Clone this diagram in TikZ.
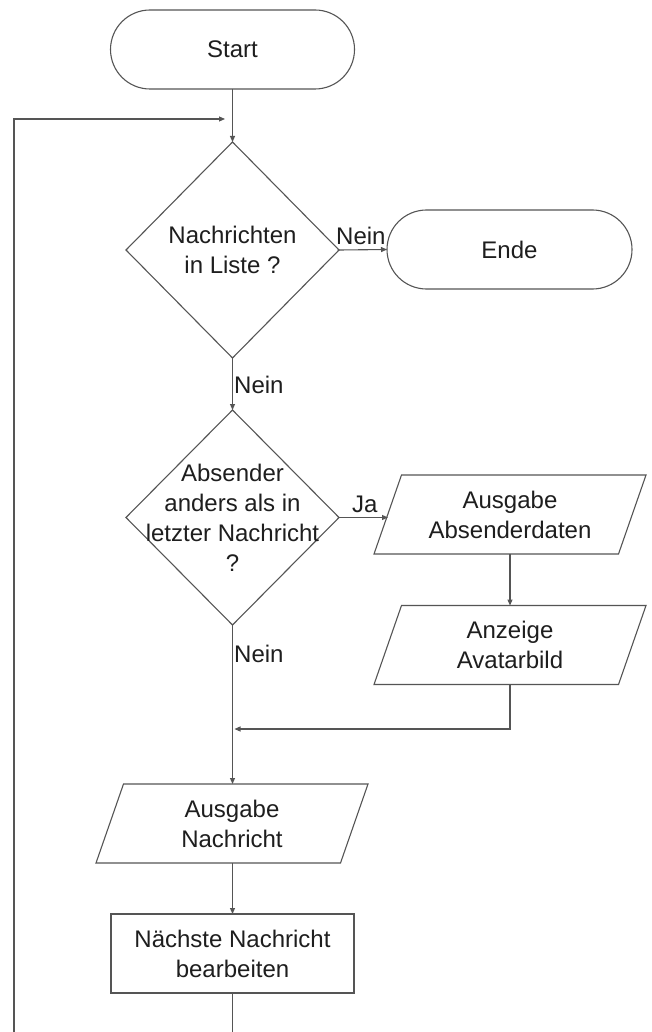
\documentclass[tikz,border=0pt]{standalone}
\usepackage{fontspec}
\setmainfont{Liberation Sans}
\usetikzlibrary{shapes.geometric,arrows.meta}
\definecolor{ln}{RGB}{85,85,85}
\definecolor{tx}{RGB}{30,30,30}
\begin{document}
\begin{tikzpicture}[x=1pt,y=-1pt,
  every node/.style={text=tx,font=\fontsize{24}{30}\selectfont},
  conn/.style={draw=ln,line width=1.1pt},
  arr/.style={conn,-{Triangle[length=6pt,width=5pt]}},
  term/.style={draw=ln,line width=1.1pt,rectangle,rounded corners=39.5pt,minimum width=244pt,minimum height=79pt,inner sep=0pt,outer sep=0pt,align=center},
  procbox/.style={draw=ln,line width=1.1pt,rectangle,minimum width=243pt,minimum height=79pt,inner sep=0pt,outer sep=0pt,align=center},
  iobox/.style={rectangle,minimum width=272pt,minimum height=79pt,inner sep=0pt,outer sep=0pt,align=center},
  decision/.style={draw=ln,line width=1.1pt,diamond,minimum width=213pt,minimum height=216pt,inner sep=0pt,outer sep=0pt},
  txt/.style={align=center,inner sep=0pt},
  lbl/.style={anchor=base west,inner sep=0pt}
]
\clip (0,0) rectangle (652,1032);
\fill[white] (0,0) rectangle (652,1032);

% nodes
\node[term] (start) at (232.5,49.5) {Start};
\node[decision] (d1) at (232.5,250) {};
\node[txt] (d1t) at (232.5,250) {Nachrichten\\in Liste ?};
\node[term,minimum width=245pt] (ende) at (509.5,249.5) {Ende};
\node[decision,minimum height=215pt] (d2) at (232.5,517.5) {};
\node[txt] (d2t) at (232.5,518) {Absender\\anders als in\\letzter Nachricht\\?};
\node[iobox] (p1) at (510,514.5) {Ausgabe\\Absenderdaten};
\node[iobox] (p2) at (510,645) {Anzeige\\Avatarbild};
\node[iobox] (p3) at (232,823.5) {Ausgabe\\Nachricht};
\node[procbox] (box) at (232.5,953.5) {Nächste Nachricht\\bearbeiten};

% parallelogram outlines
\foreach \n in {p1,p2,p3}{
  \draw[conn,line join=miter] ([xshift=27.5pt]\n.north west) -- (\n.north east)
     -- ([xshift=-27.5pt]\n.south east) -- (\n.south west) -- cycle;
}

% helper coordinates
\coordinate (p1in) at (388,517.5);
\coordinate (merge) at (234.5,729);
\coordinate (loopin) at (225,119);
\coordinate (bl) at (232.5,1045);
\coordinate (br) at (14,1045);
\coordinate (tl) at (14,119);

% connectors
\draw[arr] (start.south) -- (d1.north);
\draw[arr] (d1.east) -- (ende.west);
\draw[arr] (d1.south) -- (d2.north);
\draw[arr] (d2.east) -- (p1in);
\draw[arr] (p1.south) -- (p2.north);
\draw[arr,line join=miter] (p2.south) |- (merge);
\draw[arr] (d2.south) -- (d2.south |- p3.north);
\draw[arr] (p3.south -| box.north) -- (box.north);
\draw[arr,line join=miter] (box.south) -- (bl) -- (br) -- (tl) -- (loopin);

% labels
\node[lbl] (l1) at (336,244) {Nein};
\node[lbl] (l2) at (234,393) {Nein};
\node[lbl] (l3) at (352,512) {Ja};
\node[lbl] (l4) at (234,662) {Nein};
\end{tikzpicture}
\end{document}
